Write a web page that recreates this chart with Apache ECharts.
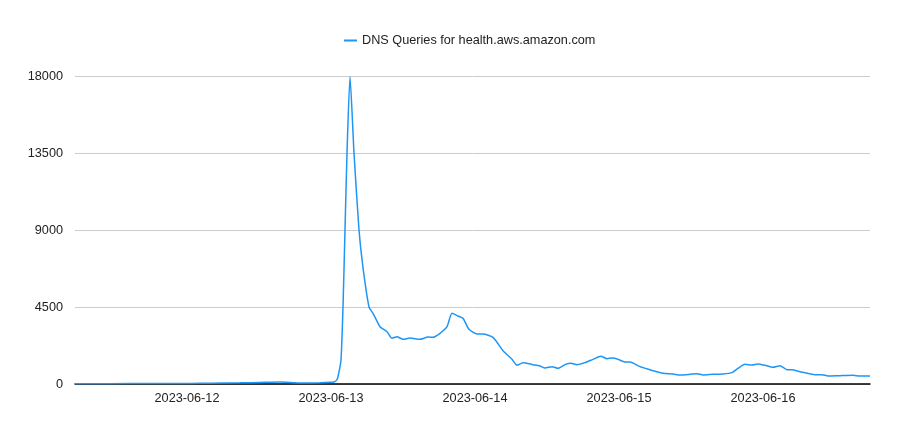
<!DOCTYPE html>
<html><head><meta charset="utf-8">
<script src="https://cdn.jsdelivr.net/npm/echarts@6/dist/echarts.min.js"></script>
<style>html,body{margin:0;padding:0;background:#fff}#c{width:918px;height:441px}</style>
</head><body><div id="c"></div>
<script>
var seriesName = 'DNS Queries for health.aws.amazon.com';
var yTicks = [0, 4500, 9000, 13500, 18000];
var times = [
'2023-06-11 05:20','2023-06-11 11:10','2023-06-11 17:50','2023-06-12 00:30','2023-06-12 03:50',
'2023-06-12 08:50','2023-06-12 12:10','2023-06-12 15:30','2023-06-12 18:50','2023-06-12 22:10',
'2023-06-13 00:00','2023-06-13 00:30','2023-06-13 01:00','2023-06-13 01:20','2023-06-13 01:40',
'2023-06-13 02:00','2023-06-13 02:20','2023-06-13 02:40','2023-06-13 03:10','2023-06-13 03:50',
'2023-06-13 04:40','2023-06-13 05:20','2023-06-13 06:20','2023-06-13 07:00','2023-06-13 08:10',
'2023-06-13 09:20','2023-06-13 10:10','2023-06-13 11:00','2023-06-13 12:00','2023-06-13 13:10',
'2023-06-13 14:50','2023-06-13 16:10','2023-06-13 17:00','2023-06-13 18:10','2023-06-13 19:20',
'2023-06-13 20:10','2023-06-13 21:10','2023-06-13 22:00','2023-06-13 23:00','2023-06-14 00:20',
'2023-06-14 01:20','2023-06-14 03:00','2023-06-14 04:40','2023-06-14 06:10','2023-06-14 07:00',
'2023-06-14 08:00','2023-06-14 09:40','2023-06-14 10:50','2023-06-14 11:40','2023-06-14 12:50',
'2023-06-14 13:50','2023-06-14 15:00','2023-06-14 16:00','2023-06-14 17:00','2023-06-14 18:20',
'2023-06-14 19:40','2023-06-14 21:00','2023-06-14 22:00','2023-06-14 23:00','2023-06-14 23:50',
'2023-06-15 01:00','2023-06-15 01:50','2023-06-15 03:30','2023-06-15 05:40','2023-06-15 07:20',
'2023-06-15 09:00','2023-06-15 10:10','2023-06-15 11:50','2023-06-15 13:00','2023-06-15 14:00',
'2023-06-15 15:40','2023-06-15 17:20','2023-06-15 18:50','2023-06-15 19:50','2023-06-15 21:00',
'2023-06-15 22:10','2023-06-15 23:10','2023-06-16 00:20','2023-06-16 01:40','2023-06-16 02:50',
'2023-06-16 04:00','2023-06-16 04:50','2023-06-16 06:10','2023-06-16 08:40','2023-06-16 09:50',
'2023-06-16 10:50','2023-06-16 12:50','2023-06-16 15:00','2023-06-16 16:10','2023-06-16 17:50'
];
var values = [
20,20,25,30,50,
70,90,110,60,70,
100,120,250,700,1400,
4500,9000,13500,17950,13500,
9000,6800,4500,4130,3350,
3057,2670,2765,2610,2688,
2610,2746,2727,2960,3350,
4130,3974,3838,3195,2922,
2922,2727,1948,1441,1091,
1247,1130,1052,935,1013,
916,1130,1208,1130,1247,
1441,1617,1480,1519,1441,
1286,1286,1013,779,623,
584,526,565,604,526,
565,584,662,916,1150,
1110,1169,1091,974,1071,
838,838,720,545,545,
467,487,506,467,467
];
var xMin = '2023-06-11 05:20';
var xMax = '2023-06-16 17:50';

var data = times.map(function(t, i){ return [t, values[i]]; });
var FONT = 'Liberation Sans, Arial, sans-serif';
var FS = 12.7;
var chart = echarts.init(document.getElementById('c'), null, {renderer: 'canvas'});
chart.setOption({
  animation: false,
  textStyle: {fontFamily: FONT},
  legend: {
    top: 29, left: 339,
    itemWidth: 13, itemHeight: 2, itemGap: 8,
    icon: 'rect',
    textStyle: {color: '#222', fontSize: FS, fontFamily: FONT},
    data: [seriesName]
  },
  grid: {left: 75, right: 48, top: 76, bottom: 57, containLabel: false},
  xAxis: {
    type: 'time',
    min: xMin, max: xMax,
    minInterval: 86400000, maxInterval: 86400000,
    splitLine: {show: false},
    axisTick: {show: false},
    axisLine: {lineStyle: {color: '#000', width: 1.5}},
    axisLabel: {
      color: '#222', fontSize: FS, margin: 8,
      showMinLabel: false, showMaxLabel: false,
      formatter: '{yyyy}-{MM}-{dd}'
    }
  },
  yAxis: {
    type: 'value', min: yTicks[0], max: yTicks[yTicks.length-1], interval: yTicks[1]-yTicks[0],
    axisLine: {show: false}, axisTick: {show: false},
    splitLine: {lineStyle: {color: '#cccccc', width: 1}},
    axisLabel: {color: '#222', fontSize: FS, margin: 12, formatter: function(v){ return String(v); }}
  },
  series: [{
    name: seriesName,
    type: 'line',
    data: data,
    showSymbol: false,
    smooth: 0.2,
    lineStyle: {color: '#1e96f5', width: 1.5},
    itemStyle: {color: '#1e96f5'}
  }]
});
</script></body></html>
